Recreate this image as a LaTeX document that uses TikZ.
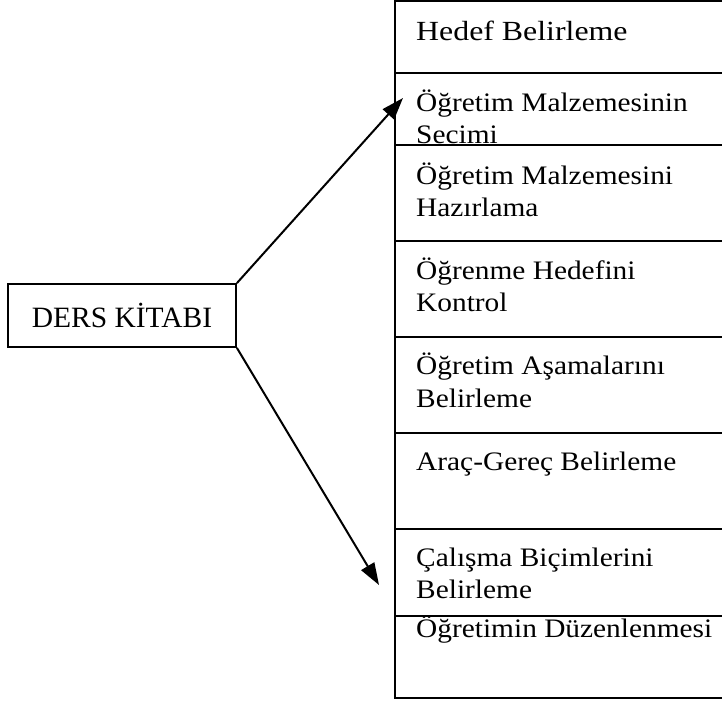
\documentclass[tikz,border=0pt]{standalone}
\usepackage{fontspec}
\setmainfont{Liberation Serif}
\newfontfamily\cellfont{Liberation Serif}[FakeStretch=1.1]
\newfontfamily\headfont{Liberation Serif}[FakeStretch=1.15]
\usetikzlibrary{arrows.meta}
\begin{document}
\begin{tikzpicture}[x=1pt,y=-1pt,
  rule/.style={line width=2.1pt},
  celltext/.style={anchor=base west,inner sep=0pt,align=left,
    font=\cellfont\fontsize{26.7pt}{32.5pt}\selectfont},
  headtext/.style={celltext,font=\headfont\fontsize{27.7pt}{32.5pt}\selectfont},
  bookbox/.style={draw,line width=1.8pt,minimum width=228pt,minimum height=63pt,
    inner sep=0pt,font=\fontsize{29.5pt}{34pt}\selectfont},
  link/.style={line width=2pt,-{Triangle[length=22pt,width=15pt]}}]
\useasboundingbox (0,0) rectangle (722,702);
% right column
\draw[rule] (722,1) -- (395,1) -- (395,698) -- (722,698);
\foreach \yy in {73,145,241,337,433,529,616}
  \draw[rule] (395,\yy) -- (722,\yy);
% base anchor = baseline of the last line
\node[headtext] (c1) at (416,40.7) {Hedef Belirleme};
\node[celltext] (c2) at (416,143.5) {Öğretim Malzemesinin\\Secimi};
\node[celltext] (c3) at (416,216.7) {Öğretim Malzemesini\\Hazırlama};
\node[celltext] (c4) at (416,311.7) {Öğrenme Hedefini\\Kontrol};
\node[celltext] (c5) at (416,407) {Öğretim Aşamalarını\\Belirleme};
\node[celltext] (c6) at (416,470) {Araç-Gereç Belirleme};
\node[celltext] (c7) at (416,598.5) {Çalışma Biçimlerini\\Belirleme};
\node[celltext] (c8) at (416,637) {Öğretimin Düzenlenmesi};
% left box
\node[bookbox] (ders) at (122,315.5) {DERS KİTABI};
\coordinate (tipA) at (403,98);
\coordinate (tipB) at (379,585);
\draw[link] (ders.north east) -- (tipA);
\draw[link] (ders.south east) -- (tipB);
\end{tikzpicture}
\end{document}
